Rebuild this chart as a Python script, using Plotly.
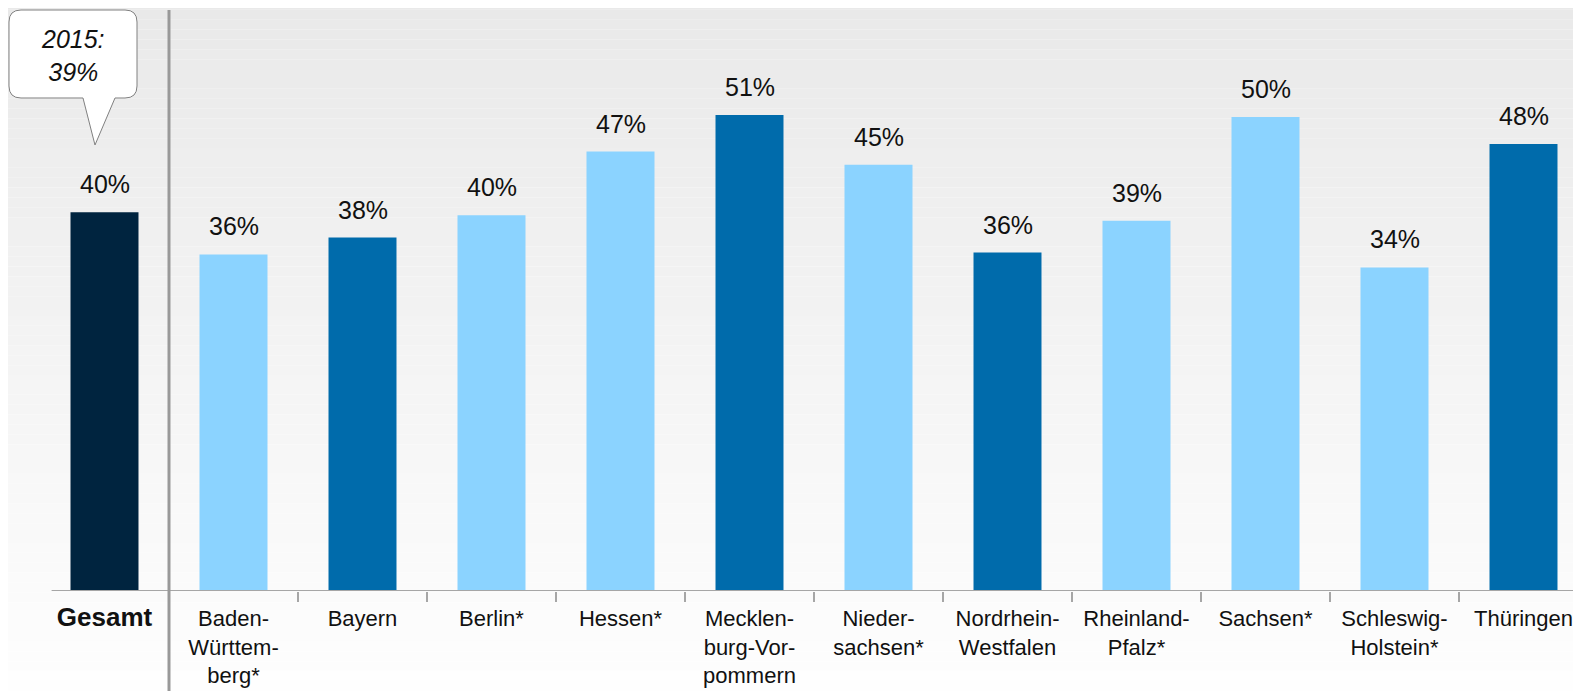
import plotly.graph_objects as go

# ---- data ----
categories = ["<span style=\"font-size:26px\"><b>Gesamt</b></span>", "Baden-<br>Württem-<br>berg*", "Bayern",
              "Berlin*", "Hessen*", "Mecklen-<br>burg-Vor-<br>pommern", "Nieder-<br>sachsen*",
              "Nordrhein-<br>Westfalen", "Rheinland-<br>Pfalz*", "Sachsen*", "Schleswig-<br>Holstein*",
              "Thüringen"]
values = [40.5, 36.0, 37.8, 40.2, 47.0, 50.9, 45.6, 36.2, 39.6, 50.7, 34.6, 47.8]
labels = ["40%", "36%", "38%", "40%", "47%", "51%", "45%", "36%", "39%", "50%", "34%", "48%"]
groups = ["total", "light", "mid", "light", "light", "mid", "light", "mid", "light", "light", "light", "mid"]
callout_text = "<i>2015:<br>39%</i>"

# ---- styles ----
OFF = 8                      # page body margin
W, H = 1581 - OFF, 691 - OFF
ML, MR, MT, MB = 32, 0, 22, 100
PW, PH = W - ML - MR, H - MT - MB
CAT_PX = 129.0
color_map = {"total": "#00243F", "light": "#8BD3FF", "mid": "#006BAB"}
FONT = "Arial, Liberation Sans, sans-serif"
xpos = list(range(len(categories)))


def px(xp):
    """reference-page x pixel -> paper coordinate"""
    return (xp - OFF - ML) / PW


def py(yp):
    """reference-page y pixel -> paper coordinate"""
    return (H - MB - (yp - OFF)) / PH


fig = go.Figure()
fig.add_trace(go.Bar(
    x=xpos, y=values, width=0.527,
    marker=dict(color=[color_map[g] for g in groups], line=dict(width=0)),
    hoverinfo="skip",
))

# value labels
for xv, v, t in zip(xpos, values, labels):
    fig.add_annotation(x=xv, y=v, text=t, showarrow=False, yanchor="bottom",
                       yshift=12, font=dict(size=25, color="#111111", family=FONT))

shapes = []
# gradient background
n = 70
for i in range(n):
    y0p = 691 * i / n
    y1p = 691 * (i + 1) / n
    g = int(round(233 + (254 - 233) * (i / (n - 1))))
    col = f"rgb({g},{g},{g})"
    shapes.append(dict(type="rect", xref="paper", yref="paper", layer="below",
                       x0=px(0), x1=px(1600), y0=py(y1p), y1=py(y0p),
                       fillcolor=col, line=dict(width=0)))

# baseline
shapes.append(dict(type="line", xref="x", yref="y", x0=-0.41, x1=12, y0=0, y1=0,
                   line=dict(color="#A6A6A6", width=2)))
# separator line between Gesamt and states
shapes.append(dict(type="line", xref="x", yref="paper", x0=0.5, x1=0.5,
                   y0=py(700), y1=py(10), line=dict(color="#999999", width=3)))

# callout bubble
pts = [("M", 21, 10), ("L", 125, 10), ("Q", 137, 10, 137, 22), ("L", 137, 86),
       ("Q", 137, 98, 125, 98), ("L", 115, 98), ("L", 95, 145), ("L", 83, 98),
       ("L", 21, 98), ("Q", 9, 98, 9, 86), ("L", 9, 22), ("Q", 9, 10, 21, 10)]
path = ""
for p in pts:
    cmd = p[0]
    coords = p[1:]
    seg = []
    for k in range(0, len(coords), 2):
        seg.append(f"{px(coords[k]):.5f},{py(coords[k+1]):.5f}")
    path += cmd + " " + " ".join(seg) + " "
path += "Z"
shapes.append(dict(type="path", xref="paper", yref="paper", path=path,
                   fillcolor="white", line=dict(color="#808080", width=1)))

fig.add_annotation(xref="paper", yref="paper", x=px(73), y=py(55), text=callout_text,
                   showarrow=False, xanchor="center", yanchor="middle",
                   font=dict(size=25, color="#111111", family=FONT))

fig.update_layout(
    width=W, height=H,
    margin=dict(l=ML, r=MR, t=MT, b=MB, pad=0),
    paper_bgcolor="white", plot_bgcolor="rgba(0,0,0,0)",
    shapes=shapes, showlegend=False,
    font=dict(family=FONT, color="#111111"),
)
fig.update_xaxes(
    range=[-0.5, -0.5 + PW / CAT_PX],
    tickmode="array", tickvals=xpos, ticktext=categories,
    showline=False, ticks="", ticklabelstandoff=12,
    minor=dict(tickmode="array", tickvals=[i + 0.5 for i in range(1, len(categories) - 1)],
               ticks="outside", ticklen=10, tickcolor="#A6A6A6", tickwidth=2, showgrid=False),
    tickfont=dict(size=22, color="#111111", family=FONT),
    showgrid=False, zeroline=False, fixedrange=True,
)
fig.update_yaxes(range=[0, 60], visible=False, showgrid=False, zeroline=False)

fig.write_html("out.html")
